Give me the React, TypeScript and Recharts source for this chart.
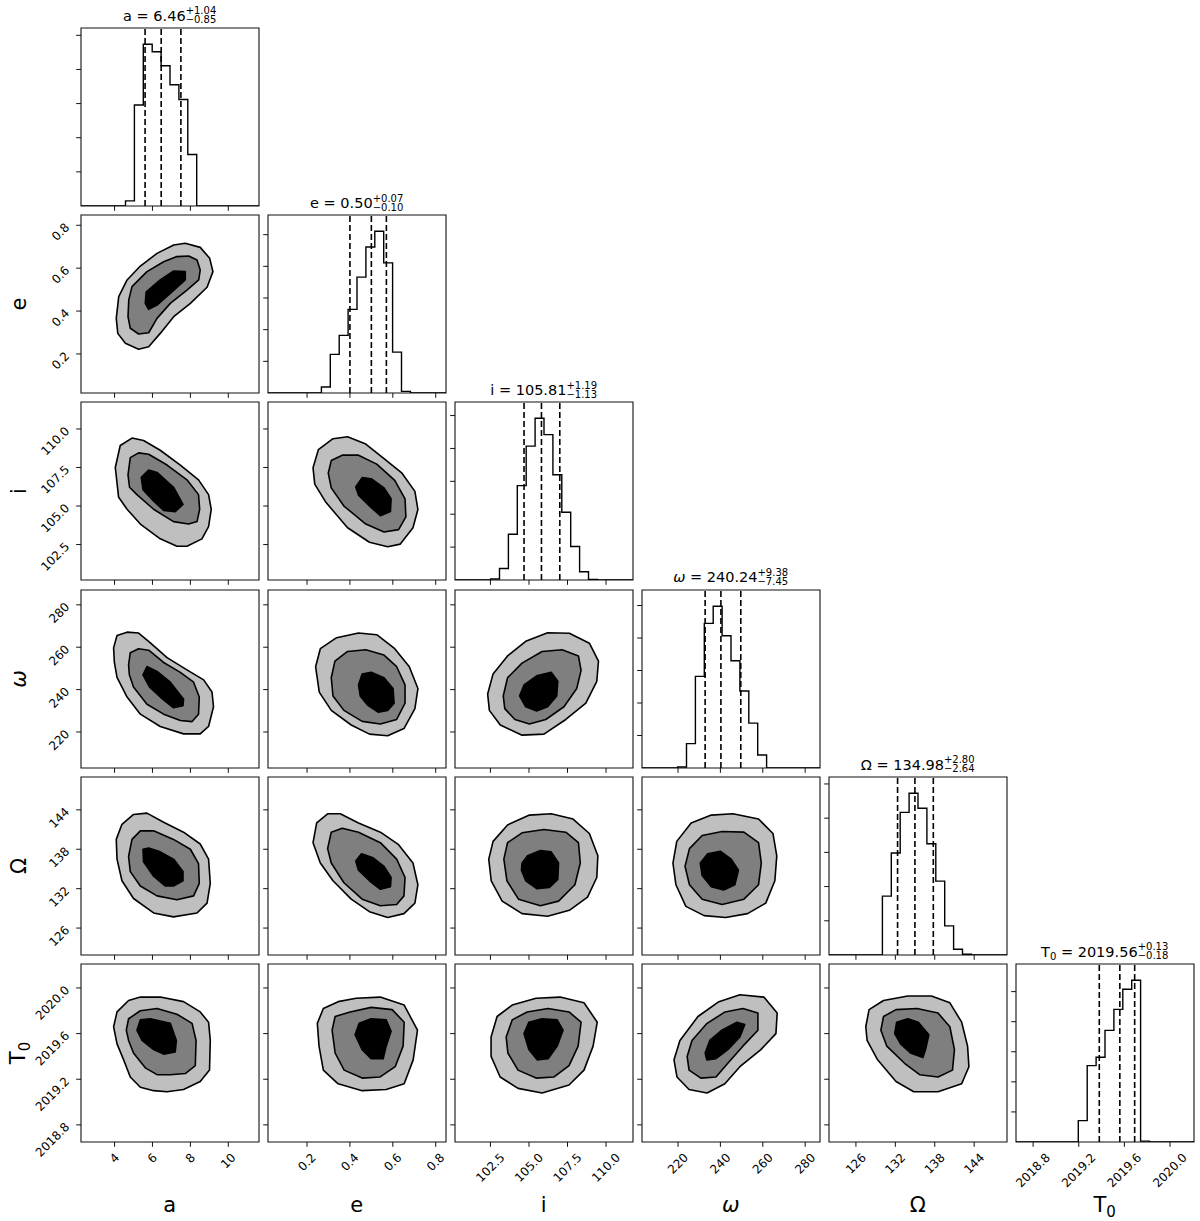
import React from "react";
import {
  ComposedChart,
  XAxis,
  YAxis,
  Line,
  Scatter,
  ReferenceLine,
  ReferenceArea,
} from "recharts";

type Pt = [number, number];

// parameters: a, e, i, omega, Omega, T0
const labels = ["a", "e", "i", "ω", "Ω", "T0"];
const domains: [number, number][] = [
  [2.23, 11.62],
  [0.018, 0.848],
  [100.2, 111.75],
  [203, 287],
  [121.9, 149],
  [2018.65, 2020.21],
];
const axisTicks = [
  [4, 6, 8, 10],
  [0.2, 0.4, 0.6, 0.8],
  [102.5, 105, 107.5, 110],
  [220, 240, 260, 280],
  [126, 132, 138, 144],
  [2018.8, 2019.2, 2019.6, 2020.0],
];
const tickDecimals = [0, 1, 1, 0, 0, 1];

const medians = [6.46, 0.5, 105.81, 240.24, 134.98, 2019.56];
const errPlus = [1.04, 0.07, 1.19, 9.38, 2.8, 0.13];
const errMinus = [0.85, 0.1, 1.13, 7.45, 2.64, 0.18];

// 20-bin marginal histograms (arbitrary count units)
const histA = [0, 0, 0, 0, 0, 0.15, 2.96, 4.74, 4.52, 4.11, 3.55, 3.12, 1.51, 0, 0, 0, 0, 0, 0, 0];
const histE = [0, 0, 0, 0, 0, 0, 0.19, 1.22, 1.82, 2.64, 3.66, 4.61, 5.11, 4.11, 1.29, 0.05, 0, 0, 0, 0];
const histI = [0, 0, 0, 0, 0.03, 0.35, 1.39, 2.87, 4.07, 4.92, 4.42, 3.2, 2.06, 1.02, 0.25, 0.02, 0, 0, 0, 0];
const histW = [0, 0, 0, 0, 0.03, 0.75, 2.82, 4.45, 4.98, 4.07, 3.3, 2.37, 1.38, 0.4, 0, 0, 0, 0, 0, 0];
const histO = [0, 0, 0, 0, 0, 0, 1.72, 2.98, 4.17, 4.73, 4.29, 3.25, 2.16, 0.85, 0.17, 0.02, 0, 0, 0, 0];
const histT = [0, 0, 0, 0, 0, 0, 0, 0.71, 2.54, 2.82, 3.71, 4.41, 5.08, 5.38, 0.03, 0, 0, 0, 0, 0];
const hists = [histA, histE, histI, histW, histO, histT];
const histTicks = [1, 2, 3, 4, 5];

// 2D contours [outer, middle, inner], points as [x, y]
const eVsA: Pt[][] = [
  [[4.09, 0.366], [4.22, 0.467], [4.66, 0.545], [5.36, 0.61], [6.24, 0.669], [7.12, 0.708], [7.73, 0.716], [8.52, 0.697], [9.02, 0.646], [9.19, 0.584], [8.88, 0.511], [8.0, 0.436], [7.12, 0.374], [6.41, 0.296], [5.8, 0.234], [5.27, 0.222], [4.57, 0.25], [4.17, 0.296]],
  [[4.75, 0.452], [4.92, 0.514], [5.71, 0.584], [6.59, 0.63], [7.29, 0.654], [7.91, 0.657], [8.35, 0.638], [8.52, 0.592], [8.44, 0.545], [7.82, 0.498], [6.94, 0.436], [6.24, 0.366], [5.8, 0.299], [5.27, 0.293], [4.83, 0.32], [4.71, 0.374]],
  [[5.67, 0.49], [6.41, 0.545], [7.12, 0.587], [7.73, 0.584], [7.73, 0.545], [6.94, 0.483], [6.24, 0.428], [5.8, 0.408], [5.62, 0.436]],
];
const iVsA: Pt[][] = [
  [[4.04, 107.5], [4.3, 108.93], [4.92, 109.41], [5.53, 109.25], [6.41, 108.62], [7.47, 107.66], [8.43, 106.7], [8.96, 105.74], [9.1, 104.79], [8.96, 103.67], [8.61, 102.87], [7.82, 102.39], [7.29, 102.39], [6.41, 102.87], [5.36, 103.83], [4.66, 104.79], [4.21, 105.59]],
  [[4.71, 107.02], [4.83, 108.14], [5.27, 108.45], [5.8, 108.36], [6.77, 107.66], [7.82, 106.7], [8.43, 105.74], [8.49, 104.79], [8.35, 103.99], [7.91, 103.83], [7.11, 103.99], [6.06, 104.79], [5.18, 105.74], [4.79, 106.22]],
  [[5.41, 106.86], [5.8, 107.34], [6.24, 107.18], [7.11, 106.22], [7.61, 105.1], [7.2, 104.63], [6.59, 104.72], [5.98, 105.42], [5.5, 106.06]],
];
const wVsA: Pt[][] = [
  [[3.95, 259.7], [4.13, 265.5], [4.66, 267.1], [5.27, 266.7], [5.89, 262.0], [6.77, 255.1], [7.82, 249.3], [8.7, 244.6], [9.14, 238.9], [9.22, 231.9], [8.96, 222.6], [8.52, 219.1], [7.64, 219.1], [6.41, 222.6], [5.36, 228.4], [4.66, 236.5], [4.13, 245.8], [3.99, 252.8]],
  [[4.74, 251.6], [4.83, 257.4], [5.27, 259.3], [5.8, 258.6], [6.59, 252.8], [7.47, 248.1], [8.17, 243.5], [8.47, 236.5], [8.43, 228.4], [8.09, 224.9], [7.47, 225.4], [6.59, 228.4], [5.71, 233.1], [5.0, 241.2], [4.78, 247.0]],
  [[5.5, 247.0], [5.71, 250.9], [6.24, 248.6], [6.94, 243.5], [7.64, 235.4], [7.61, 232.4], [7.11, 231.4], [6.41, 236.5], [5.85, 241.2]],
];
const oVsA: Pt[][] = [
  [[4.09, 139.5], [4.39, 141.8], [5.0, 143.3], [5.71, 143.5], [6.59, 142.1], [7.64, 140.6], [8.52, 138.8], [8.96, 136.5], [9.05, 132.8], [8.88, 129.8], [8.35, 128.3], [7.11, 127.7], [6.06, 128.3], [5.0, 130.5], [4.39, 133.2], [4.13, 136.5]],
  [[4.74, 136.9], [4.92, 139.5], [5.36, 140.8], [6.06, 140.8], [7.11, 139.5], [8.0, 138.0], [8.43, 135.8], [8.47, 132.8], [8.17, 130.9], [7.29, 130.3], [6.24, 130.9], [5.36, 132.4], [4.83, 134.6]],
  [[5.5, 138.0], [5.8, 138.2], [6.41, 137.6], [7.11, 136.5], [7.61, 134.6], [7.61, 133.2], [7.11, 132.4], [6.68, 132.4], [6.06, 133.9], [5.53, 136.1]],
];
const tVsA: Pt[][] = [
  [[3.95, 2019.66], [4.13, 2019.79], [4.74, 2019.89], [5.36, 2019.92], [6.41, 2019.92], [7.64, 2019.88], [8.52, 2019.79], [8.96, 2019.7], [9.05, 2019.54], [9.01, 2019.28], [8.52, 2019.18], [7.64, 2019.11], [6.77, 2019.09], [6.06, 2019.1], [5.36, 2019.13], [4.83, 2019.22], [4.48, 2019.37], [4.13, 2019.51]],
  [[4.62, 2019.63], [4.74, 2019.73], [5.36, 2019.8], [6.24, 2019.82], [7.29, 2019.77], [8.09, 2019.69], [8.3, 2019.54], [8.26, 2019.32], [7.73, 2019.25], [6.94, 2019.24], [6.24, 2019.24], [5.62, 2019.3], [5.0, 2019.43], [4.74, 2019.54]],
  [[5.18, 2019.63], [5.36, 2019.72], [5.89, 2019.73], [6.94, 2019.69], [7.26, 2019.54], [7.2, 2019.44], [6.59, 2019.42], [6.06, 2019.46], [5.45, 2019.54]],
];
const iVsE: Pt[][] = [
  [[0.228, 107.48], [0.253, 108.66], [0.321, 109.37], [0.389, 109.49], [0.474, 109.02], [0.559, 108.07], [0.643, 107.13], [0.703, 105.95], [0.717, 104.77], [0.694, 103.59], [0.635, 102.53], [0.576, 102.36], [0.491, 102.65], [0.389, 103.59], [0.288, 105.24], [0.236, 106.42]],
  [[0.299, 107.13], [0.313, 107.95], [0.364, 108.3], [0.44, 108.3], [0.525, 107.72], [0.609, 106.66], [0.657, 105.47], [0.661, 104.29], [0.627, 103.47], [0.559, 103.31], [0.474, 103.83], [0.372, 105.0], [0.313, 106.18]],
  [[0.427, 106.23], [0.457, 106.84], [0.499, 106.77], [0.559, 106.18], [0.592, 105.47], [0.589, 104.65], [0.542, 104.37], [0.491, 105.0], [0.44, 105.71]],
];
const wVsE: Pt[][] = [
  [[0.24, 250.8], [0.262, 259.3], [0.338, 264.5], [0.44, 266.7], [0.525, 265.9], [0.609, 259.3], [0.677, 250.8], [0.717, 240.5], [0.703, 231.0], [0.652, 221.6], [0.576, 218.2], [0.491, 219.0], [0.406, 223.3], [0.313, 230.2], [0.257, 238.8]],
  [[0.313, 245.6], [0.33, 253.4], [0.389, 258.0], [0.474, 258.8], [0.559, 256.3], [0.618, 250.8], [0.657, 242.2], [0.657, 233.6], [0.618, 225.9], [0.542, 223.8], [0.457, 225.0], [0.372, 230.2], [0.321, 237.0]],
  [[0.44, 242.2], [0.457, 247.4], [0.499, 248.2], [0.559, 245.6], [0.601, 240.5], [0.606, 233.6], [0.576, 230.2], [0.533, 229.3], [0.482, 232.7], [0.448, 237.0]],
];
const oVsE: Pt[][] = [
  [[0.228, 139.0], [0.245, 142.0], [0.296, 143.4], [0.355, 143.4], [0.44, 142.0], [0.542, 140.6], [0.627, 138.7], [0.694, 135.9], [0.717, 132.6], [0.703, 129.8], [0.652, 128.2], [0.576, 127.6], [0.491, 128.5], [0.406, 130.4], [0.321, 133.2], [0.262, 135.9]],
  [[0.296, 138.1], [0.313, 140.6], [0.364, 141.2], [0.44, 140.6], [0.542, 139.0], [0.618, 136.5], [0.657, 133.7], [0.652, 130.9], [0.618, 129.6], [0.542, 129.4], [0.457, 130.4], [0.372, 132.9], [0.313, 135.9]],
  [[0.427, 136.2], [0.454, 137.3], [0.508, 136.7], [0.559, 135.4], [0.592, 133.7], [0.589, 132.3], [0.542, 131.9], [0.491, 133.2], [0.44, 134.8]],
];
const tVsE: Pt[][] = [
  [[0.248, 2019.69], [0.276, 2019.82], [0.345, 2019.88], [0.429, 2019.91], [0.541, 2019.92], [0.653, 2019.85], [0.715, 2019.63], [0.695, 2019.37], [0.653, 2019.16], [0.569, 2019.11], [0.457, 2019.1], [0.345, 2019.16], [0.276, 2019.28], [0.256, 2019.49]],
  [[0.317, 2019.63], [0.331, 2019.75], [0.401, 2019.79], [0.499, 2019.83], [0.597, 2019.81], [0.653, 2019.7], [0.648, 2019.49], [0.611, 2019.31], [0.541, 2019.22], [0.457, 2019.21], [0.373, 2019.28], [0.331, 2019.43]],
  [[0.424, 2019.59], [0.443, 2019.69], [0.499, 2019.73], [0.569, 2019.72], [0.592, 2019.62], [0.569, 2019.49], [0.555, 2019.38], [0.499, 2019.38], [0.457, 2019.46]],
];
const wVsI: Pt[][] = [
  [[102.32, 237.9], [102.67, 247.4], [103.61, 255.9], [104.79, 262.8], [106.21, 266.8], [107.62, 266.6], [108.92, 261.9], [109.51, 253.4], [109.4, 243.9], [108.69, 233.6], [107.39, 225.9], [105.97, 219.0], [104.55, 218.5], [103.14, 223.3], [102.43, 230.2]],
  [[103.33, 237.0], [103.61, 245.6], [104.55, 252.5], [105.85, 258.0], [107.15, 258.8], [108.21, 255.9], [108.38, 249.1], [108.1, 240.5], [107.27, 231.9], [106.09, 225.9], [105.03, 223.8], [104.09, 225.9], [103.43, 231.0]],
  [[104.39, 237.0], [104.68, 242.2], [105.5, 246.5], [106.44, 248.2], [106.87, 243.9], [106.8, 237.0], [106.21, 231.9], [105.5, 229.9], [104.79, 231.9]],
];
const oVsI: Pt[][] = [
  [[102.39, 136.5], [102.67, 139.2], [103.61, 141.7], [105.03, 143.2], [106.44, 143.4], [107.86, 142.6], [108.92, 140.4], [109.47, 137.0], [109.4, 133.7], [108.8, 130.7], [107.62, 128.7], [106.21, 127.8], [104.55, 128.2], [103.26, 130.1], [102.55, 133.2]],
  [[103.37, 136.5], [103.61, 139.0], [104.55, 140.5], [105.97, 141.0], [107.39, 140.6], [108.21, 139.0], [108.33, 135.9], [107.98, 132.6], [106.92, 130.1], [105.74, 129.4], [104.32, 130.4], [103.57, 133.2]],
  [[104.55, 135.9], [104.91, 137.0], [105.74, 137.8], [106.44, 137.6], [106.92, 135.9], [106.87, 133.4], [106.33, 132.2], [105.5, 132.0], [104.79, 133.2], [104.51, 134.8]],
];
const tVsI: Pt[][] = [
  [[102.54, 2019.57], [102.93, 2019.75], [103.91, 2019.85], [105.46, 2019.91], [107.02, 2019.92], [108.57, 2019.87], [109.43, 2019.7], [109.16, 2019.49], [108.57, 2019.28], [107.6, 2019.15], [105.85, 2019.08], [104.29, 2019.12], [103.13, 2019.22], [102.54, 2019.4]],
  [[103.52, 2019.57], [103.91, 2019.72], [104.88, 2019.79], [106.24, 2019.82], [107.6, 2019.79], [108.38, 2019.7], [108.19, 2019.49], [107.6, 2019.32], [106.63, 2019.22], [105.46, 2019.21], [104.29, 2019.28], [103.63, 2019.43]],
  [[104.68, 2019.6], [104.99, 2019.7], [105.85, 2019.73], [106.83, 2019.72], [107.21, 2019.63], [106.83, 2019.49], [106.24, 2019.38], [105.53, 2019.37], [104.99, 2019.46]],
];
const oVsW: Pt[][] = [
  [[217.6, 135.9], [219.4, 139.2], [226.2, 142.0], [235.7, 143.2], [245.9, 143.4], [258.0, 142.6], [264.8, 140.4], [266.6, 137.0], [265.7, 133.2], [261.4, 129.8], [252.8, 128.2], [242.5, 127.6], [232.3, 127.9], [223.7, 129.3], [219.0, 132.6]],
  [[223.3, 135.4], [225.4, 138.1], [231.4, 140.1], [240.8, 140.7], [251.1, 140.6], [258.0, 139.0], [259.3, 135.9], [258.0, 132.6], [251.1, 130.4], [240.8, 129.6], [231.4, 130.4], [225.4, 132.6]],
  [[230.5, 135.9], [234.0, 137.3], [239.9, 137.7], [245.1, 136.5], [248.5, 134.8], [246.8, 132.6], [241.6, 131.8], [235.7, 132.3], [231.4, 134.0]],
];
const tVsW: Pt[][] = [
  [[218.1, 2019.37], [220.9, 2019.54], [229.4, 2019.75], [239.3, 2019.88], [249.2, 2019.94], [260.5, 2019.92], [266.8, 2019.78], [266.2, 2019.6], [259.1, 2019.46], [249.2, 2019.31], [242.1, 2019.16], [233.7, 2019.08], [225.2, 2019.11], [219.5, 2019.22]],
  [[224.3, 2019.4], [226.6, 2019.54], [233.7, 2019.69], [242.2, 2019.79], [250.6, 2019.82], [257.7, 2019.78], [257.7, 2019.63], [250.6, 2019.49], [243.5, 2019.34], [237.9, 2019.22], [230.8, 2019.21], [225.2, 2019.28]],
  [[232.8, 2019.43], [235.0, 2019.54], [240.7, 2019.63], [247.8, 2019.7], [251.5, 2019.68], [249.2, 2019.57], [243.5, 2019.46], [237.9, 2019.38], [233.6, 2019.37]],
];
const tVsO: Pt[][] = [
  [[127.5, 2019.66], [128.0, 2019.81], [130.2, 2019.89], [133.9, 2019.93], [137.5, 2019.93], [140.3, 2019.87], [142.1, 2019.7], [143.0, 2019.49], [143.2, 2019.31], [142.1, 2019.16], [138.5, 2019.09], [134.8, 2019.09], [132.1, 2019.18], [129.3, 2019.37], [127.7, 2019.54]],
  [[129.8, 2019.63], [130.2, 2019.75], [132.1, 2019.81], [135.3, 2019.82], [138.5, 2019.78], [140.3, 2019.66], [141.0, 2019.46], [140.7, 2019.28], [138.5, 2019.22], [135.7, 2019.24], [133.4, 2019.34], [130.7, 2019.49]],
  [[131.9, 2019.6], [132.2, 2019.7], [133.9, 2019.73], [135.5, 2019.7], [137.1, 2019.59], [136.6, 2019.46], [136.2, 2019.39], [134.3, 2019.43], [132.8, 2019.51]],
];

// contours[row][col] for col < row
const contours: Pt[][][][] = [
  [],
  [eVsA],
  [iVsA, iVsE],
  [wVsA, wVsE, wVsI],
  [oVsA, oVsE, oVsI, oVsW],
  [tVsA, tVsE, tVsI, tVsW, tVsO],
];

const INK = "#000";
const FRAME = "#111";
const FILLS = ["#bfbfbf", "#7f7f7f", "#000000"];
const FONT = "'DejaVu Sans', sans-serif";

const COL_LEFT = 80.7;
const ROW_TOP = 28;
const PITCH_X = 187;
const PITCH_Y = 187.2;
const SIZE = 178;
const Y_AXIS_W = 60;
const X_AXIS_H = 60;
const PAD = 2;
const TICK_LEN = 4.8;
const TICK_PAD = 4.9;
const TICK_FS = 12;

function textWidth(s: string, fs: number) {
  let w = 0;
  for (const ch of s) w += ch === "." ? 0.318 : 0.636;
  return w * fs;
}

const noTick = () => <g />;

function makeXTick(k: number) {
  return (p: any) => {
    const label = Number(p.payload.value).toFixed(tickDecimals[k]);
    const half = (textWidth(label, TICK_FS) + TICK_FS * 0.9) * 0.3536;
    const cx = p.x;
    const cy = p.y + half;
    return (
      <text x={cx} y={cy} transform={`rotate(-45 ${cx} ${cy})`} textAnchor="middle" dominantBaseline="central" fontSize={TICK_FS} fontFamily={FONT} fill={INK}>
        {label}
      </text>
    );
  };
}

function makeYTick(k: number) {
  return (p: any) => {
    const label = Number(p.payload.value).toFixed(tickDecimals[k]);
    const ax = p.x - 3.9;
    const ay = p.y;
    return (
      <text x={ax} y={ay} transform={`rotate(-45 ${ax} ${ay})`} textAnchor="end" dominantBaseline="central" fontSize={TICK_FS} fontFamily={FONT} fill={INK}>
        {label}
      </text>
    );
  };
}

function contourLine(fill: string) {
  return (props: any) => {
    const pts: { x: number; y: number }[] = props.points || [];
    if (!pts.length) return <g />;
    const d = "M" + pts.map((p) => `${p.x},${p.y}`).join("L") + "Z";
    return <path d={d} fill={fill} stroke={INK} strokeWidth={1.6} strokeLinejoin="round" />;
  };
}

function histPoints(k: number) {
  const [lo, hi] = domains[k];
  const counts = hists[k];
  const w = (hi - lo) / counts.length;
  const pts = [{ x: lo, y: 0 }];
  counts.forEach((c, j) => pts.push({ x: lo + j * w, y: c }));
  pts.push({ x: hi, y: 0 });
  return pts;
}

function Panel({ row, col }: { row: number; col: number }) {
  const hist = row === col;
  const xd = domains[col];
  const yd: [number, number] = hist ? [0, 1.1 * Math.max(...hists[col])] : domains[row];
  const left = COL_LEFT + col * PITCH_X - Y_AXIS_W;
  const top = ROW_TOP + row * PITCH_Y - PAD;
  const quantiles = [medians[col] - errMinus[col], medians[col], medians[col] + errPlus[col]];

  return (
    <div style={{ position: "absolute", left, top }}>
      <ComposedChart
        width={Y_AXIS_W + SIZE + PAD}
        height={PAD + SIZE + X_AXIS_H}
        margin={{ top: PAD, right: PAD, bottom: 0, left: 0 }}
      >
        <XAxis
          type="number"
          dataKey="x"
          domain={xd}
          allowDataOverflow
          ticks={axisTicks[col]}
          interval={0}
          height={X_AXIS_H}
          axisLine={false}
          tickSize={TICK_LEN}
          tickMargin={TICK_PAD}
          tickLine={{ stroke: FRAME, strokeWidth: 1 }}
          tick={row === 5 ? makeXTick(col) : noTick}
        />
        <YAxis
          type="number"
          dataKey="y"
          domain={yd}
          allowDataOverflow
          ticks={hist ? histTicks : axisTicks[row]}
          interval={0}
          width={Y_AXIS_W}
          axisLine={false}
          tickSize={TICK_LEN}
          tickMargin={TICK_PAD}
          tickLine={{ stroke: FRAME, strokeWidth: 1 }}
          tick={col === 0 && row > 0 ? makeYTick(row) : noTick}
        />
        {hist && (
          <Line
            data={histPoints(col)}
            dataKey="y"
            type="stepAfter"
            stroke={INK}
            strokeWidth={1.4}
            dot={false}
            activeDot={false}
            isAnimationActive={false}
          />
        )}
        {hist &&
          quantiles.map((q, j) => (
            <ReferenceLine key={`q-${j}`} x={q} stroke={INK} strokeWidth={1.6} strokeDasharray="6 3" />
          ))}
        {!hist &&
          contours[row][col].map((level, li) => (
            <Scatter
              key={`c-${li}`}
              data={level.map(([x, y]) => ({ x, y }))}
              line={contourLine(FILLS[li])}
              shape={noTick}
              isAnimationActive={false}
            />
          ))}
        <ReferenceArea x1={xd[0]} x2={xd[1]} y1={yd[0]} y2={yd[1]} fill="none" stroke={FRAME} strokeWidth={1.1} />
      </ComposedChart>
    </div>
  );
}

function ParamName({ idx, subSize }: { idx: number; subSize: number }) {
  if (idx === 3) return <span style={{ fontStyle: "italic" }}>ω</span>;
  if (idx === 5)
    return (
      <span>
        T<span style={{ fontSize: subSize, position: "relative", top: subSize * 0.3 }}>0</span>
      </span>
    );
  return <span>{labels[idx]}</span>;
}

function Title({ idx }: { idx: number }) {
  const cx = COL_LEFT + idx * PITCH_X + SIZE / 2;
  const baseline = ROW_TOP + idx * PITCH_Y - 7.3;
  return (
    <div
      style={{
        position: "absolute",
        left: cx - 120,
        width: 240,
        top: baseline - 17,
        textAlign: "center",
        fontSize: 14.5,
        lineHeight: "14px",
        whiteSpace: "nowrap",
      }}
    >
      <ParamName idx={idx} subSize={10} />
      {" = " + medians[idx].toFixed(2)}
      <span
        style={{
          display: "inline-block",
          fontSize: 10,
          lineHeight: "9px",
          textAlign: "left",
          position: "relative",
          top: 2.7,
        }}
      >
        <span style={{ display: "block" }}>{"+" + errPlus[idx].toFixed(2)}</span>
        <span style={{ display: "block" }}>{"\u2212" + errMinus[idx].toFixed(2)}</span>
      </span>
    </div>
  );
}

export default function App() {
  const cells: { row: number; col: number }[] = [];
  for (let r = 0; r < 6; r++) for (let c = 0; c <= r; c++) cells.push({ row: r, col: c });

  return (
    <div
      style={{
        position: "absolute",
        left: 0,
        top: 0,
        width: 1200,
        height: 1221,
        background: "#fff",
        fontFamily: FONT,
        color: "#000",
      }}
    >
      {cells.map(({ row, col }) => (
        <Panel key={`${row}-${col}`} row={row} col={col} />
      ))}
      {labels.map((_, k) => (
        <Title key={`t-${k}`} idx={k} />
      ))}
      {labels.map((_, k) => (
        <div
          key={`xl-${k}`}
          style={{
            position: "absolute",
            left: COL_LEFT + k * PITCH_X + SIZE / 2 - 50,
            width: 100,
            top: 1195,
            textAlign: "center",
            fontSize: 21,
            lineHeight: "21px",
          }}
        >
          <ParamName idx={k} subSize={15} />
        </div>
      ))}
      {labels.slice(1).map((_, j) => (
        <div
          key={`yl-${j}`}
          style={{
            position: "absolute",
            left: 18.5,
            top: ROW_TOP + (j + 1) * PITCH_Y + SIZE / 2,
            transform: "translate(-50%, -50%) rotate(-90deg)",
            fontSize: 21,
            lineHeight: "21px",
            whiteSpace: "nowrap",
          }}
        >
          <ParamName idx={j + 1} subSize={15} />
        </div>
      ))}
    </div>
  );
}
